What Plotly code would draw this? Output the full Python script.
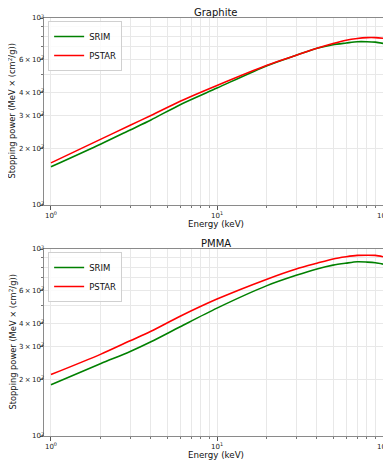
import plotly.graph_objects as go
from plotly.subplots import make_subplots

# energies (keV) and stopping powers (MeV cm2/g)
energie = [1, 2, 3, 4, 6, 10, 20, 30, 40, 50, 60, 70, 80, 90, 100]

graphite_srim = [160, 212, 252, 285, 344, 422, 556, 632, 689, 720, 735, 747, 747, 743, 732]
graphite_pstar = [168, 225, 267, 301, 359, 436, 559, 632, 689, 731, 761, 777, 785, 785, 779]

pmma_srim = [188, 244, 283, 319, 384, 483, 637, 723, 782, 820, 840, 854, 851, 844, 830]
pmma_pstar = [213, 274, 323, 363, 437, 540, 690, 782, 840, 885, 909, 924, 926, 924, 909]

titres = ["Graphite", "PMMA"]

x_ticks = [1, 10, 100]
x_labels = ["10<sup>0</sup>", "10<sup>1</sup>", "10<sup>2</sup>"]
x_minor = [2, 3, 4, 5, 6, 7, 8, 9, 20, 30, 40, 50, 60, 70, 80, 90]

y_ticks = [100, 200, 300, 400, 600, 1000]
y_labels = ["10<sup>2</sup>", "2\u2009×\u200910<sup>2</sup>", "3\u2009×\u200910<sup>2</sup>",
            "4\u2009×\u200910<sup>2</sup>", "6\u2009×\u200910<sup>2</sup>", "10<sup>3</sup>"]
y_minor = [500, 700, 800, 900]

# the page body adds an 8px margin: keep the figure small enough to avoid scrollbars
W, H = 383, 455
ml, mr, mt, mb = 36, 3, 10, 27
ph = H - mt - mb
pw = W - ml - mr

fig = make_subplots(rows=2, cols=1, vertical_spacing=0.1)

series = [(graphite_srim, graphite_pstar), (pmma_srim, pmma_pstar)]
for i, (srim, pstar) in enumerate(series):
    leg = "legend" if i == 0 else "legend2"
    fig.add_trace(go.Scatter(x=energie, y=srim, name="SRIM", mode="lines",
                             line=dict(color="green", width=1.6, shape="spline", smoothing=0.8),
                             legend=leg), row=i + 1, col=1)
    fig.add_trace(go.Scatter(x=energie, y=pstar, name="PSTAR", mode="lines",
                             line=dict(color="red", width=1.6, shape="spline", smoothing=0.8),
                             legend=leg), row=i + 1, col=1)

axe = dict(showline=True, linecolor="#8a8a8a", linewidth=1, mirror=True,
           ticks="outside", ticklen=3.5, tickcolor="#555", tickwidth=0.8,
           gridcolor="#e8e8e8", gridwidth=1, zeroline=False, automargin=False,
           tickfont=dict(family="DejaVu Sans", size=7, color="#222"))

# panel top / bottom in figure pixels
panneaux = [(10, 197), (241, 428)]
for i, (haut, bas) in enumerate(panneaux):
    d0 = (H - mb - bas) / ph
    d1 = (H - mb - haut) / ph
    fig.update_xaxes(type="log", range=[-0.042, 2.030], tickvals=x_ticks, ticktext=x_labels,
                     minor=dict(tickvals=x_minor, ticks="outside", ticklen=2, tickcolor="#777",
                                showgrid=True, gridcolor="#e8e8e8"),
                     **axe, row=i + 1, col=1)
    fig.update_yaxes(type="log", range=[2, 3], domain=[d0, d1], tickvals=y_ticks, ticktext=y_labels,
                     ticklabelstandoff=-6,
                     minor=dict(tickvals=y_minor, ticks="outside", ticklen=2, tickcolor="#777",
                                showgrid=True, gridcolor="#e8e8e8"),
                     **axe, row=i + 1, col=1)
    ymid = (d0 + d1) / 2
    fig.add_annotation(text=titres[i], xref="paper", yref="paper", x=0.5, y=d1,
                       yanchor="bottom", showarrow=False, yshift=-2,
                       font=dict(family="DejaVu Sans", size=10, color="#111"))
    fig.add_annotation(text="Energy (keV)", xref="paper", yref="paper", x=0.5, y=d0,
                       yanchor="top", showarrow=False, yshift=-12,
                       font=dict(family="DejaVu Sans", size=8.7, color="#111"))
    fig.add_annotation(text="Stopping power (MeV × (cm<sup>2</sup>/g))", xref="paper", yref="paper",
                       x=(4 - ml) / pw, y=ymid, xanchor="center", yanchor="middle",
                       textangle=-90, showarrow=False, borderpad=0,
                       font=dict(family="DejaVu Sans", size=8.3, color="#111"))

legende = dict(xanchor="left", yanchor="top", bgcolor="rgba(255,255,255,0.8)",
               bordercolor="#d0d0d0", borderwidth=1,
               font=dict(family="DejaVu Sans", size=8.5, color="#111"),
               itemwidth=30, tracegroupgap=0)
fig.update_layout(
    width=W, height=H,
    margin=dict(l=ml, r=mr, t=mt, b=mb),
    plot_bgcolor="white", paper_bgcolor="white",
    legend=dict(x=0.012, y=1 - 3 / ph, **legende),
    legend2=dict(x=0.012, y=(H - mb - 244) / ph, **legende),
)

fig.write_html("out.html")
